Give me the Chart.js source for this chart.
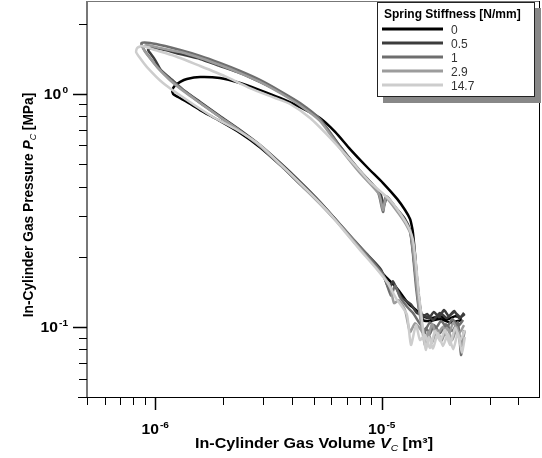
<!DOCTYPE html>
<html lang="en">
<head>
<meta charset="UTF-8">
<title>In-Cylinder Gas P-V Loops</title>
<script src="https://cdn.jsdelivr.net/npm/chart.js"></script>
<style>
  body { margin: 0; background: #fff; }
  #pvChart { display: block; }
</style>
</head>
<body>
<canvas id="pvChart" width="542" height="458"></canvas>
<script>
// spring stiffness of each run [N/mm] and its line colour
const stiffnessLabels = ['0', '0.5', '1', '2.9', '14.7'];
const lineColors = ['#000000', '#3c3c3c', '#6e6e6e', '#9c9c9c', '#cdcdcd'];

// in-cylinder gas volume [m^3] / pressure [MPa], one closed loop per run
const volume0 = [2.26e-5, 2.11e-5, 1.96e-5, 1.81e-5, 1.67e-5, 1.55e-5, 1.45e-5, 1.31e-5, 1.17e-5, 1.03e-5,
  8.88e-6, 7.62e-6, 6.55e-6, 5.34e-6, 4.36e-6, 3.56e-6, 2.90e-6, 2.37e-6, 1.93e-6, 1.58e-6,
  1.38e-6, 1.26e-6, 1.20e-6, 1.19e-6, 1.22e-6, 1.29e-6, 1.38e-6, 1.58e-6, 1.93e-6, 2.37e-6,
  2.90e-6, 3.56e-6, 4.36e-6, 5.34e-6, 6.23e-6, 7.25e-6, 8.61e-6, 1.014e-5, 1.17e-5, 1.268e-5,
  1.334e-5, 1.361e-5, 1.375e-5, 1.404e-5, 1.432e-5, 1.476e-5, 1.522e-5, 1.634e-5, 1.81e-5, 2.0e-5, 2.26e-5];
const pressure0 = [0.109, 0.111, 0.108, 0.111, 0.109, 0.110, 0.116, 0.126, 0.146, 0.166,
  0.195, 0.229, 0.274, 0.341, 0.41, 0.495, 0.59, 0.679, 0.764, 0.851,
  0.922, 0.968, 0.998, 1.037, 1.08, 1.124, 1.157, 1.18, 1.168, 1.112,
  1.037, 0.959, 0.877, 0.787, 0.686, 0.579, 0.485, 0.414, 0.354, 0.317,
  0.29, 0.268, 0.252, 0.204, 0.162, 0.123, 0.107, 0.106, 0.108, 0.1045, 0.107];

const volume05 = [2.31e-5, 2.2e-5, 2.09e-5, 1.98e-5, 1.885e-5, 1.79e-5, 1.70e-5, 1.617e-5, 1.522e-5, 1.432e-5,
  1.347e-5, 1.23e-5, 1.17e-5, 1.12e-5, 1.077e-5, 9.93e-6, 8.52e-6, 7.25e-6, 6.23e-6, 5.34e-6,
  4.36e-6, 3.56e-6, 2.90e-6, 2.37e-6, 1.93e-6, 1.58e-6, 1.35e-6, 1.19e-6, 1.06e-6, 1.0e-6,
  9.5e-7, 9.3e-7, 9.6e-7, 1.106e-6, 1.29e-6, 1.58e-6, 1.93e-6, 2.37e-6, 2.90e-6, 3.56e-6,
  4.36e-6, 5.34e-6, 6.55e-6, 8.02e-6, 9.83e-6, 1.024e-5, 1.055e-5, 1.145e-5, 1.268e-5, 1.334e-5,
  1.375e-5, 1.418e-5, 1.461e-5, 1.491e-5, 1.585e-5, 1.685e-5, 1.81e-5, 1.94e-5, 2.09e-5, 2.22e-5, 2.33e-5];
const pressure05 = [0.1147, 0.109, 0.117, 0.111, 0.118, 0.110, 0.1159, 0.109, 0.1124, 0.1147,
  0.1247, 0.133, 0.144, 0.157, 0.146, 0.176, 0.207, 0.245, 0.29, 0.344,
  0.42, 0.506, 0.603, 0.699, 0.803, 0.922, 1.027, 1.146, 1.265, 1.395,
  1.495, 1.54, 1.571, 1.54, 1.48, 1.41, 1.315, 1.227, 1.124, 1.017,
  0.904, 0.772, 0.595, 0.467, 0.375, 0.333, 0.361, 0.327, 0.29, 0.26,
  0.21, 0.159, 0.122, 0.109, 0.1135, 0.107, 0.1147, 0.109, 0.1159, 0.110, 0.1135];

const volume1 = [2.29e-5, 2.17e-5, 2.05e-5, 1.94e-5, 1.83e-5, 1.735e-5, 1.634e-5, 1.553e-5, 1.461e-5, 1.375e-5,
  1.294e-5, 1.205e-5, 1.145e-5, 1.10e-5, 1.014e-5, 8.7e-6, 7.4e-6, 6.3e-6, 5.34e-6, 4.36e-6,
  3.56e-6, 2.90e-6, 2.37e-6, 1.93e-6, 1.58e-6, 1.35e-6, 1.19e-6, 1.05e-6, 9.5e-7, 8.84e-7,
  8.7e-7, 9.5e-7, 1.106e-6, 1.29e-6, 1.58e-6, 1.93e-6, 2.37e-6, 2.90e-6, 3.56e-6, 4.36e-6,
  5.34e-6, 6.55e-6, 8.02e-6, 9.62e-6, 1.014e-5, 1.045e-5, 1.157e-5, 1.268e-5, 1.334e-5, 1.375e-5,
  1.418e-5, 1.461e-5, 1.506e-5, 1.537e-5, 1.569e-5, 1.634e-5, 1.70e-5, 1.81e-5, 1.92e-5, 2.05e-5,
  2.17e-5, 2.24e-5, 2.31e-5];
const pressure1 = [0.107, 0.1005, 0.108, 0.0995, 0.106, 0.099, 0.1045, 0.0969, 0.1045, 0.1147,
  0.122, 0.134, 0.1505, 0.136, 0.168, 0.202, 0.241, 0.287, 0.341, 0.414,
  0.50, 0.597, 0.692, 0.795, 0.912, 1.027, 1.135, 1.265, 1.424, 1.571,
  1.651, 1.651, 1.602, 1.54, 1.452, 1.355, 1.252, 1.146, 1.027, 0.912,
  0.779, 0.595, 0.462, 0.379, 0.311, 0.364, 0.323, 0.284, 0.257, 0.204,
  0.148, 0.118, 0.1018, 0.0904, 0.099, 0.0932, 0.1018, 0.0941, 0.1027, 0.096,
  0.1045, 0.0757, 0.0969];

const volume29 = [2.31e-5, 2.2e-5, 2.07e-5, 1.96e-5, 1.865e-5, 1.75e-5, 1.668e-5, 1.585e-5, 1.491e-5, 1.404e-5,
  1.334e-5, 1.268e-5, 1.19e-5, 1.134e-5, 1.088e-5, 1.024e-5, 8.7e-6, 7.4e-6, 6.3e-6, 5.34e-6,
  4.36e-6, 3.56e-6, 2.90e-6, 2.37e-6, 1.93e-6, 1.58e-6, 1.35e-6, 1.16e-6, 1.02e-6, 9.4e-7,
  8.93e-7, 8.84e-7, 9.2e-7, 1.05e-6, 1.29e-6, 1.58e-6, 1.93e-6, 2.37e-6, 2.90e-6, 3.56e-6,
  4.36e-6, 5.34e-6, 6.55e-6, 8.02e-6, 9.73e-6, 1.014e-5, 1.045e-5, 1.157e-5, 1.268e-5, 1.347e-5,
  1.39e-5, 1.432e-5, 1.476e-5, 1.522e-5, 1.553e-5, 1.60e-5, 1.668e-5, 1.75e-5, 1.84e-5, 1.94e-5,
  2.05e-5, 2.15e-5, 2.24e-5, 2.33e-5];
const pressure29 = [0.1018, 0.0941, 0.1045, 0.0897, 0.1, 0.0923, 0.1027, 0.0878, 0.0969, 0.1036,
  0.095, 0.118, 0.130, 0.1265, 0.149, 0.1635, 0.1975, 0.238, 0.284, 0.337,
  0.41, 0.495, 0.597, 0.692, 0.795, 0.912, 1.017, 1.146, 1.302, 1.438,
  1.54, 1.587, 1.618, 1.571, 1.51, 1.424, 1.328, 1.227, 1.124, 1.007,
  0.89, 0.764, 0.584, 0.457, 0.371, 0.317, 0.357, 0.317, 0.279, 0.247,
  0.195, 0.146, 0.1124, 0.0923, 0.0836, 0.095, 0.0855, 0.0969, 0.0873, 0.099,
  0.0878, 0.0995, 0.0836, 0.096];

const volume147 = [2.33e-5, 2.22e-5, 2.11e-5, 2.0e-5, 1.905e-5, 1.81e-5, 1.72e-5, 1.634e-5, 1.553e-5, 1.476e-5,
  1.418e-5, 1.347e-5, 1.294e-5, 1.22e-5, 1.157e-5, 1.066e-5, 9.34e-6, 8.02e-6, 6.9e-6, 5.92e-6,
  5.08e-6, 4.36e-6, 3.56e-6, 2.90e-6, 2.30e-6, 1.80e-6, 1.38e-6, 1.083e-6, 9.2e-7, 8.57e-7,
  8.24e-7, 8.32e-7, 8.75e-7, 1.0e-6, 1.22e-6, 1.58e-6, 2.03e-6, 2.62e-6, 3.38e-6, 3.94e-6,
  4.83e-6, 5.92e-6, 7.25e-6, 8.88e-6, 1.088e-5, 1.22e-5, 1.32e-5, 1.375e-5, 1.418e-5, 1.461e-5,
  1.506e-5, 1.537e-5, 1.569e-5, 1.617e-5, 1.685e-5, 1.77e-5, 1.865e-5, 1.96e-5, 2.07e-5, 2.17e-5,
  2.26e-5, 2.33e-5];
const pressure147 = [0.0969, 0.0878, 0.099, 0.0836, 0.0969, 0.0868, 0.096, 0.0812, 0.0923, 0.0878,
  0.1018, 0.0836, 0.1124, 0.1234, 0.1325, 0.1535, 0.1805, 0.214, 0.255, 0.305,
  0.357, 0.414, 0.50, 0.603, 0.699, 0.795, 0.94, 1.112, 1.302, 1.424,
  1.51, 1.571, 1.602, 1.54, 1.452, 1.315, 1.19, 1.058, 0.959, 0.904,
  0.787, 0.647, 0.522, 0.418, 0.35, 0.302, 0.265, 0.236, 0.186, 0.137,
  0.107, 0.0897, 0.0796, 0.0904, 0.0808, 0.0941, 0.0827, 0.0932, 0.0802, 0.0941,
  0.0777, 0.0904];

const volumes = [volume0, volume05, volume1, volume29, volume147];
const pressures = [pressure0, pressure05, pressure1, pressure29, pressure147];

// axis ranges and ticks
const volumeRange = [5e-7, 5e-5];
const pressureRange = [0.05, 2.5];
const xMajorTicks = [1e-6, 1e-5];
const xMajorExponents = ['-6', '-5'];
const xMinorTicks = [5e-7, 6e-7, 7e-7, 8e-7, 9e-7, 2e-6, 3e-6, 4e-6, 5e-6, 6e-6, 7e-6, 8e-6, 9e-6, 2e-5, 3e-5, 4e-5];
const yMajorTicks = [0.1, 1];
const yMajorExponents = ['-1', '0'];
const yMinorTicks = [0.05, 0.06, 0.07, 0.08, 0.09, 0.2, 0.3, 0.4, 0.5, 0.6, 0.7, 0.8, 0.9, 2];

const FONT = '"Liberation Sans", Arial, sans-serif';

// "10" with a raised exponent, slightly widened like the rest of the lettering
function powerLabel(ctx, exp, x, y, align) {
    const sx = 1.12;
    ctx.font = 'bold 14px ' + FONT;
    const wb = ctx.measureText('10').width;
    ctx.font = 'bold 9px ' + FONT;
    const we = ctx.measureText(exp).width;
    const total = (wb + we + 1) * sx;
    const left = align === 'right' ? x - total : x - total / 2;
    ctx.save();
    ctx.translate(left, y);
    ctx.scale(sx, 1);
    ctx.textAlign = 'left';
    ctx.font = 'bold 14px ' + FONT;
    ctx.fillText('10', 0, 0);
    ctx.font = 'bold 9px ' + FONT;
    ctx.fillText(exp, wb + 1, -6);
    ctx.restore();
}

// text made of several runs (italic symbol, subscript), centred on x
function richText(ctx, parts, x, y, sx) {
    let total = 0;
    parts.forEach(p => { ctx.font = p.font; total += ctx.measureText(p.text).width; });
    ctx.save();
    ctx.translate(x, y);
    ctx.scale(sx || 1, 1);
    let cx = -total / 2;
    ctx.textAlign = 'left';
    parts.forEach(p => {
        ctx.font = p.font;
        ctx.fillText(p.text, cx, p.dy || 0);
        cx += ctx.measureText(p.text).width;
    });
    ctx.restore();
}

const axesPlugin = {
    id: 'axesPlugin',
    afterDatasetsDraw(chart) {
        const ctx = chart.ctx;
        const { left, right, top, bottom } = chart.chartArea;
        const xs = chart.scales.x, ys = chart.scales.y;
        ctx.save();

        // frame
        ctx.lineWidth = 1;
        ctx.strokeStyle = '#777';
        ctx.beginPath();
        ctx.moveTo(left, top + 0.5); ctx.lineTo(right, top + 0.5);
        ctx.stroke();
        ctx.lineWidth = 2;
        ctx.beginPath();
        ctx.moveTo(left, top); ctx.lineTo(left, bottom);
        ctx.stroke();
        ctx.strokeStyle = '#000';
        ctx.lineWidth = 1;
        ctx.beginPath();
        ctx.moveTo(left - 9, bottom + 0.5); ctx.lineTo(right, bottom + 0.5);
        ctx.moveTo(right - 0.5, top); ctx.lineTo(right - 0.5, bottom);
        ctx.stroke();

        // tick marks, pointing outward
        ctx.beginPath();
        xMinorTicks.forEach(v => {
            const px = Math.round(xs.getPixelForValue(v)) + 0.5;
            ctx.moveTo(px, bottom); ctx.lineTo(px, bottom + 8);
        });
        yMinorTicks.forEach(v => {
            const py = Math.round(ys.getPixelForValue(v)) + 0.5;
            ctx.moveTo(left - 8, py); ctx.lineTo(left, py);
        });
        ctx.stroke();
        ctx.lineWidth = 1.5;
        ctx.beginPath();
        xMajorTicks.forEach(v => {
            const px = Math.round(xs.getPixelForValue(v)) + 0.5;
            ctx.moveTo(px, bottom); ctx.lineTo(px, bottom + 13);
        });
        yMajorTicks.forEach(v => {
            const py = Math.round(ys.getPixelForValue(v)) + 0.5;
            ctx.moveTo(left - 14, py); ctx.lineTo(left, py);
        });
        ctx.stroke();

        // tick labels
        ctx.fillStyle = '#000';
        xMajorTicks.forEach((v, i) => powerLabel(ctx, xMajorExponents[i], xs.getPixelForValue(v), bottom + 37, 'center'));
        yMajorTicks.forEach((v, i) => powerLabel(ctx, yMajorExponents[i], left - 19, ys.getPixelForValue(v) + 5, 'right'));

        // axis titles
        richText(ctx, [
            { text: 'In-Cylinder Gas Volume ', font: 'bold 14px ' + FONT },
            { text: 'V', font: 'bold italic 14px ' + FONT },
            { text: 'C', font: 'italic 9px ' + FONT, dy: 3 },
            { text: ' [m\u00b3]', font: 'bold 14px ' + FONT }
        ], 314, 448, 1.15);
        ctx.save();
        ctx.translate(33, 205);
        ctx.rotate(-Math.PI / 2);
        richText(ctx, [
            { text: 'In-Cylinder Gas Pressure ', font: 'bold 14px ' + FONT },
            { text: 'P', font: 'bold italic 14px ' + FONT },
            { text: 'C', font: 'italic 9px ' + FONT, dy: 3 },
            { text: ' [MPa]', font: 'bold 14px ' + FONT }
        ], 0, 0, 0.98);
        ctx.restore();

        // legend box with drop shadow
        const bx = 377, by = 2, bw = 158, bh = 95;
        ctx.fillStyle = '#888';
        ctx.fillRect(bx + 6, by + 6, bw, bh);
        ctx.fillStyle = '#fff';
        ctx.fillRect(bx, by, bw, bh);
        ctx.strokeStyle = '#222';
        ctx.lineWidth = 1;
        ctx.strokeRect(bx + 0.5, by + 0.5, bw - 1, bh - 1);
        ctx.fillStyle = '#000';
        ctx.font = 'bold 12px ' + FONT;
        ctx.textAlign = 'left';
        ctx.fillText('Spring Stiffness [N/mm]', 384, 18);
        chart.data.datasets.forEach((ds, i) => {
            const ly = 29 + i * 14;
            ctx.strokeStyle = ds.borderColor;
            ctx.lineWidth = 3;
            ctx.beginPath();
            ctx.moveTo(382, ly); ctx.lineTo(443, ly);
            ctx.stroke();
            ctx.fillStyle = '#333';
            ctx.font = '12px ' + FONT;
            ctx.fillText(ds.label, 451, ly + 5);
        });
        ctx.restore();
    }
};

const datasets = stiffnessLabels.map((label, i) => ({
    label: label,
    data: volumes[i].map((v, j) => ({ x: v, y: pressures[i][j] })),
    borderColor: lineColors[i],
    backgroundColor: lineColors[i],
    borderWidth: 2.5,
    showLine: true,
    pointRadius: 0,
    tension: 0.2,
    order: stiffnessLabels.length - i
}));

new Chart(document.getElementById('pvChart'), {
    type: 'scatter',
    data: { datasets: datasets },
    options: {
        responsive: false,
        animation: false,
        layout: { padding: { left: 87, right: 2, top: 1, bottom: 61 } },
        scales: {
            x: { type: 'logarithmic', min: volumeRange[0], max: volumeRange[1], display: false },
            y: { type: 'logarithmic', min: pressureRange[0], max: pressureRange[1], display: false }
        },
        plugins: {
            legend: { display: false },
            tooltip: { enabled: false }
        }
    },
    plugins: [axesPlugin]
});
</script>
</body>
</html>
